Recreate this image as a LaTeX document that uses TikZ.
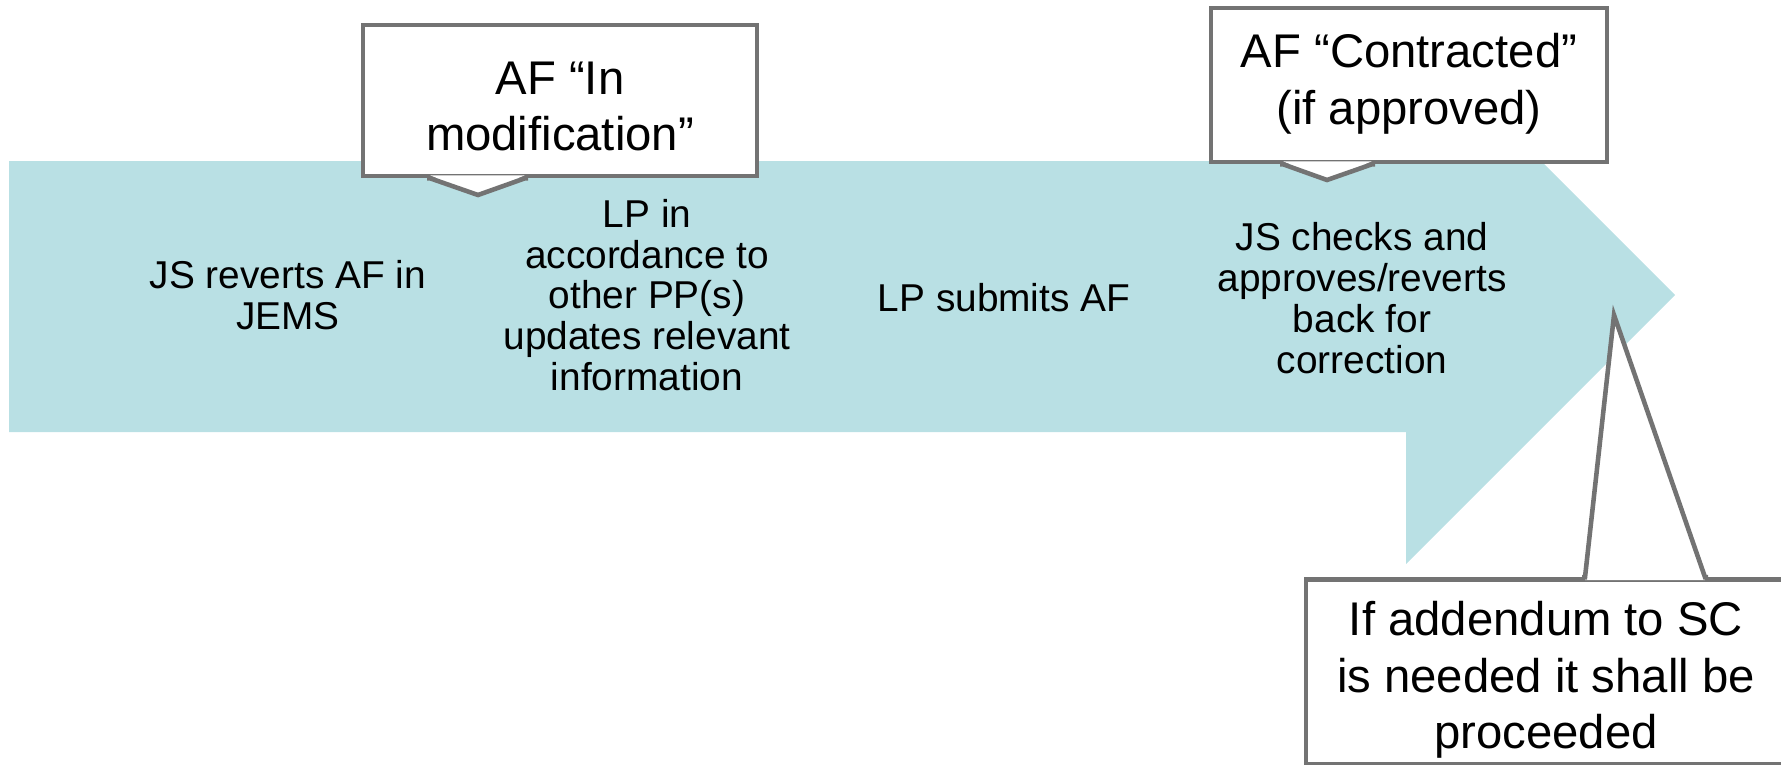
\documentclass[tikz,border=0pt]{standalone}
\usepackage{fontspec}
\setmainfont{Liberation Sans}
\usepackage{tikz}
\usetikzlibrary{calc}
\usepackage{xcolor}
\definecolor{flowteal}{RGB}{185,224,228}
\definecolor{calloutgray}{RGB}{115,115,115}

\tikzset{
  steptext/.style={align=center, inner sep=0pt, font=\fontsize{22.1pt}{23.2pt}\selectfont},
  calloutbox/.style={draw=calloutgray, fill=white, line width=2.6pt, inner sep=0pt},
  callouttext/.style={align=center, inner sep=0pt, font=\fontsize{26.9pt}{32.3pt}\selectfont},
  pointerline/.style={draw=calloutgray, line width=2.6pt}
}

\begin{document}
\begin{tikzpicture}[x=0.02cm, y=-0.02cm]
\useasboundingbox (0,0) rectangle (1781,764);

% process arrow
\fill[flowteal] (9,161) -- (1541,161) -- (1675,295) -- (1406,564) -- (1406,432) -- (9,432) -- cycle;

\node[steptext] (revert) at (288,295) {JS reverts AF in\\JEMS};
\node[steptext] (update) at (647,295) {LP in\\accordance to\\other PP(s)\\updates relevant\\information};
\node[steptext] (submit) at (1004,298) {LP submits AF};
\node[steptext] (check) at (1362,298) {JS checks and\\approves/reverts\\back for\\correction};

% callouts
\node[calloutbox, minimum width=7.88cm, minimum height=3.02cm] (modbox) at (560,100.5) {};
\node[callouttext] (modtext) at ($(modbox.center)+(0,6)$) {AF “In\\modification”};
\coordinate (modtip) at (478,195);
\coordinate (moda) at (430,0 |- modbox.south);
\coordinate (modb) at (525,0 |- modbox.south);
\fill[white] ($(moda)+(0,-3)$) -- (modtip) -- ($(modb)+(0,-3)$) -- cycle;
\draw[pointerline] ($(moda)+(-3,0)$) -- (moda) -- (modtip) -- (modb) -- ($(modb)+(3,0)$);

\node[calloutbox, minimum width=7.92cm, minimum height=3.08cm] (conbox) at (1409,85) {};
\node[callouttext] (context) at ($(conbox.center)+(0,-1)$) {AF “Contracted”\\(if approved)};
\coordinate (contip) at (1327,180);
\coordinate (cona) at (1283,0 |- conbox.south);
\coordinate (conb) at (1372,0 |- conbox.south);
\fill[white] ($(cona)+(0,-3)$) -- (contip) -- ($(conb)+(0,-3)$) -- cycle;
\draw[pointerline] ($(cona)+(-3,0)$) -- (cona) -- (contip) -- (conb) -- ($(conb)+(3,0)$);

\node[calloutbox, minimum width=9.6cm, minimum height=3.7cm] (scbox) at (1546,672) {};
\node[callouttext] (sctext) at ($(scbox.center)+(0,8)$) {If addendum to SC\\is needed it shall be\\proceeded};
\coordinate (sctip) at (1614,315);
\coordinate (sca) at (1585,0 |- scbox.north);
\coordinate (scb) at (1705,0 |- scbox.north);
\fill[white] ($(sca)+(0,3)$) -- (sctip) -- ($(scb)+(0,3)$) -- cycle;
\draw[pointerline] ($(sca)+(-3,0)$) -- (sca) -- (sctip) -- (scb) -- ($(scb)+(3,0)$);
\end{tikzpicture}
\end{document}
